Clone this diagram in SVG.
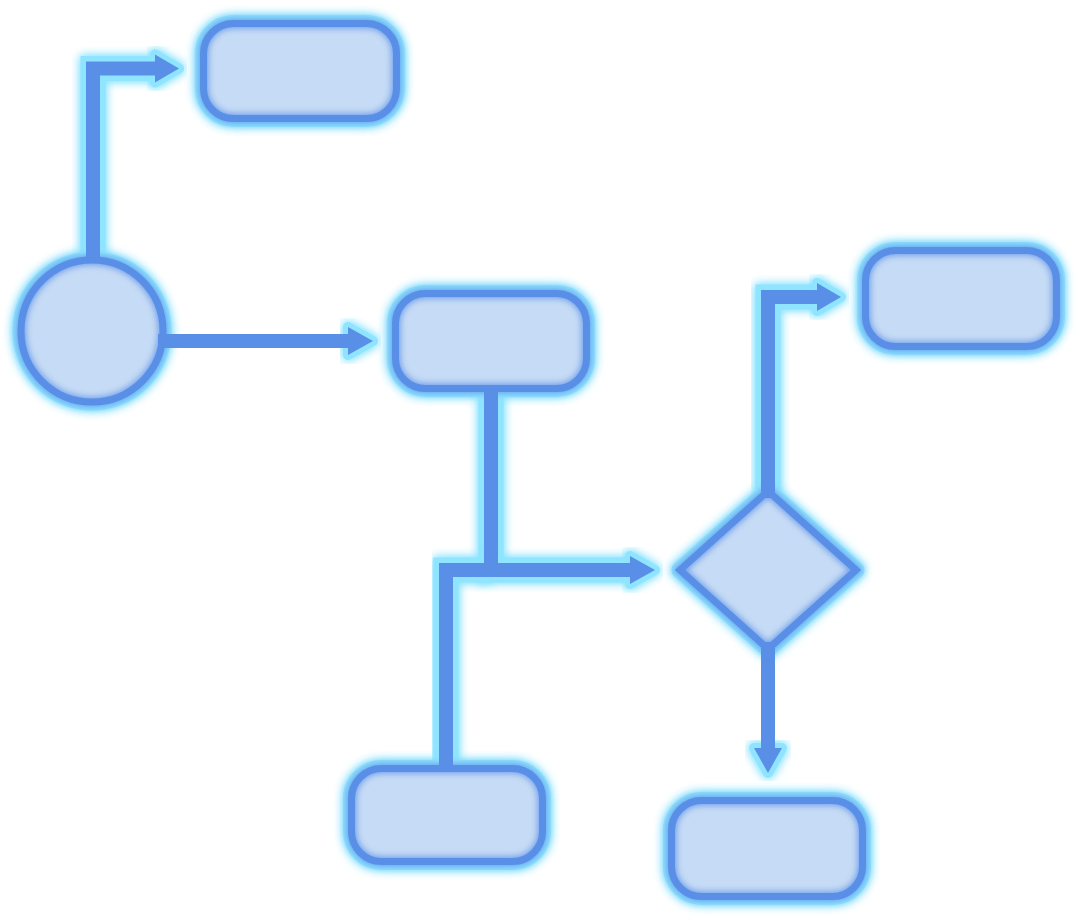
<svg xmlns="http://www.w3.org/2000/svg" width="1080" height="920" viewBox="0 0 1080 920">
<defs>
<filter id="glow" x="-30%" y="-30%" width="160%" height="160%">
<feGaussianBlur in="SourceGraphic" stdDeviation="5" result="b"/>
<feMerge><feMergeNode in="b"/><feMergeNode in="b"/><feMergeNode in="SourceGraphic"/></feMerge>
</filter>
<filter id="soft" x="-20%" y="-20%" width="140%" height="140%">
<feGaussianBlur stdDeviation="3"/>
</filter>
</defs>
<style>
.halo{fill:#8fe4ff;stroke:#8fe4ff;stroke-width:17;stroke-linejoin:round;filter:url(#glow)}
.body{fill:#c6dbf5;stroke:#5a8fe7;stroke-width:7}
.inner{fill:none;stroke:#5a8fe7;stroke-width:10;opacity:.8;filter:url(#soft)}
.cline{fill:none;stroke:#8fe4ff;stroke-width:25;stroke-linejoin:miter;filter:url(#glow)}
.chead{fill:#8fe4ff;stroke:#8fe4ff;stroke-width:10;stroke-linejoin:round;filter:url(#glow)}
.bline{fill:none;stroke:#5a8fe7;stroke-width:14;stroke-linejoin:miter}
.bhead{fill:#5a8fe7}
</style>
<g id="connectors">
<g class="outline">
<path class="cline" d="M93,258 V68.5 H160"/>
<polygon class="chead" points="155,54.5 179,68.5 155,82.5"/>
<path class="cline" d="M162,341 H352"/>
<polygon class="chead" points="348,327 373,341 348,355"/>
<path class="cline" d="M491,390 V570 H635"/>
<polygon class="chead" points="630,556 655,570 630,584"/>
<path class="cline" d="M446,767 V570 H491"/>
<path class="cline" d="M768,494 V297 H822"/>
<polygon class="chead" points="817,283 841,297 817,311"/>
<path class="cline" d="M768,648 V752"/>
<polygon class="chead" points="754,748 768,773 782,748"/>
</g>
</g>
<g id="n-top"><rect class="halo" x="203.5" y="23.5" width="193" height="95" rx="30"/><rect class="body" x="203.5" y="23.5" width="193" height="95" rx="30"/><rect class="inner" x="203.5" y="23.5" width="193" height="95" rx="30"/></g>
<g id="n-start"><circle class="halo" cx="92" cy="331" r="71"/><circle class="body" cx="92" cy="331" r="71"/><circle class="inner" cx="92" cy="331" r="71"/></g>
<g id="n-mid"><rect class="halo" x="395.5" y="293.5" width="191" height="95" rx="30"/><rect class="body" x="395.5" y="293.5" width="191" height="95" rx="30"/><rect class="inner" x="395.5" y="293.5" width="191" height="95" rx="30"/></g>
<g id="n-right"><rect class="halo" x="865.5" y="250.5" width="191" height="96" rx="30"/><rect class="body" x="865.5" y="250.5" width="191" height="96" rx="30"/><rect class="inner" x="865.5" y="250.5" width="191" height="96" rx="30"/></g>
<g id="n-decision"><polygon class="halo" points="768,491 856,570 768,649 680,570"/><polygon class="body" points="768,491 856,570 768,649 680,570"/><polygon class="inner" points="768,491 856,570 768,649 680,570"/></g>
<g id="n-bottomleft"><rect class="halo" x="351.5" y="768.5" width="191" height="93" rx="30"/><rect class="body" x="351.5" y="768.5" width="191" height="93" rx="30"/><rect class="inner" x="351.5" y="768.5" width="191" height="93" rx="30"/></g>
<g id="n-bottomright"><rect class="halo" x="671.5" y="800.5" width="191" height="96" rx="30"/><rect class="body" x="671.5" y="800.5" width="191" height="96" rx="30"/><rect class="inner" x="671.5" y="800.5" width="191" height="96" rx="30"/></g>
<g id="connector-lines">
<path class="bline" d="M93,262 V68.5 H160"/>
<polygon class="bhead" points="155,54.5 179,68.5 155,82.5"/>
<path class="bline" d="M158,341 H352"/>
<polygon class="bhead" points="348,327 373,341 348,355"/>
<path class="bline" d="M491,386 V570 H635"/>
<polygon class="bhead" points="630,556 655,570 630,584"/>
<path class="bline" d="M446,771 V570 H491"/>
<path class="bline" d="M768,498 V297 H822"/>
<polygon class="bhead" points="817,283 841,297 817,311"/>
<path class="bline" d="M768,642 V752"/>
<polygon class="bhead" points="754,748 768,773 782,748"/>
</g>
</svg>
